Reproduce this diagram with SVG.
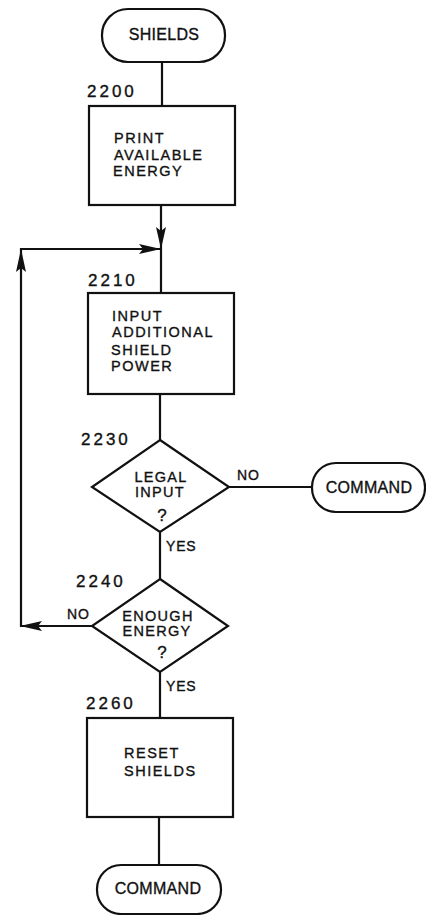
<svg xmlns="http://www.w3.org/2000/svg" width="426" height="915" viewBox="0 0 426 915">
<style>
.s{fill:#fff;stroke:#111;stroke-width:2.2}
.c{fill:none;stroke:#111;stroke-width:2.2}
.a{fill:#111;stroke:none}
text{font-family:"Liberation Sans",Arial,sans-serif;fill:#111;stroke:#111;stroke-width:0.35}
.t{font-size:14.5px;letter-spacing:1.5px}
.m{font-size:14.5px;letter-spacing:1.3px;text-anchor:middle}
.q{font-size:17px;text-anchor:middle}
.n{font-size:17px;letter-spacing:3px}
.g{font-size:14px;letter-spacing:0.8px}
.k{font-size:16px;letter-spacing:0.3px;text-anchor:middle}
</style>
<rect width="426" height="915" fill="#fff" stroke="none"/>
<g id="connectors">
<line class="c" x1="162" y1="62" x2="162" y2="106"/>
<line class="c" x1="161" y1="205" x2="161" y2="293"/>
<polyline class="c" points="92,626 21,626 21,249 161,249"/>
<line class="c" x1="160" y1="394" x2="160" y2="440"/>
<line class="c" x1="229" y1="487" x2="312" y2="487"/>
<line class="c" x1="160" y1="532" x2="160" y2="579"/>
<line class="c" x1="160" y1="672" x2="160" y2="718"/>
<line class="c" x1="159" y1="817" x2="159" y2="865"/>
<polygon class="a" points="161,249 156,227 161,231 166,227"/>
<polygon class="a" points="161,249 139,244 143,249 139,254"/>
<polygon class="a" points="21,249 16,272 21,268 26,272"/>
<polygon class="a" points="20,626 42,621 38,626 42,631"/>
<text class="g" x="237" y="480">NO</text>
<text class="g" x="166" y="551">YES</text>
<text class="g" x="67" y="619">NO</text>
<text class="g" x="166" y="691">YES</text>
</g>
<g id="shields">
<rect class="s" x="102" y="9" width="123" height="53" rx="26" ry="26"/>
<text class="k" x="164" y="40">SHIELDS</text>
</g>
<g id="n2200">
<text class="n" x="87" y="97">2200</text>
<rect class="s" x="89" y="106" width="146" height="99"/>
<text class="t" x="114" y="143">PRINT</text>
<text class="t" x="114" y="160">AVAILABLE</text>
<text class="t" x="113" y="176">ENERGY</text>
</g>
<g id="n2210">
<text class="n" x="88" y="286">2210</text>
<rect class="s" x="88" y="293" width="146" height="101"/>
<text class="t" x="112" y="321">INPUT</text>
<text class="t" x="112" y="337">ADDITIONAL</text>
<text class="t" x="111" y="355">SHIELD</text>
<text class="t" x="111" y="371">POWER</text>
</g>
<g id="n2230">
<text class="n" x="81" y="445">2230</text>
<polygon class="s" points="160,440 229,487 160,532 92,487"/>
<text class="m" x="161" y="482">LEGAL</text>
<text class="m" x="160" y="497">INPUT</text>
<text class="q" x="162" y="521">?</text>
</g>
<g id="command1">
<rect class="s" x="312" y="463" width="113" height="49" rx="24" ry="24"/>
<text class="k" x="369" y="493">COMMAND</text>
</g>
<g id="n2240">
<text class="n" x="76" y="587">2240</text>
<polygon class="s" points="160,579 228,626 160,672 92,626"/>
<text class="m" x="158" y="621">ENOUGH</text>
<text class="m" x="157" y="636">ENERGY</text>
<text class="q" x="162" y="658">?</text>
</g>
<g id="n2260">
<text class="n" x="86" y="709">2260</text>
<rect class="s" x="87" y="718" width="146" height="99"/>
<text class="t" x="124" y="758">RESET</text>
<text class="t" x="124" y="776">SHIELDS</text>
</g>
<g id="command2">
<rect class="s" x="97" y="865" width="124" height="49" rx="24" ry="24"/>
<text class="k" x="158" y="894">COMMAND</text>
</g>
</svg>
